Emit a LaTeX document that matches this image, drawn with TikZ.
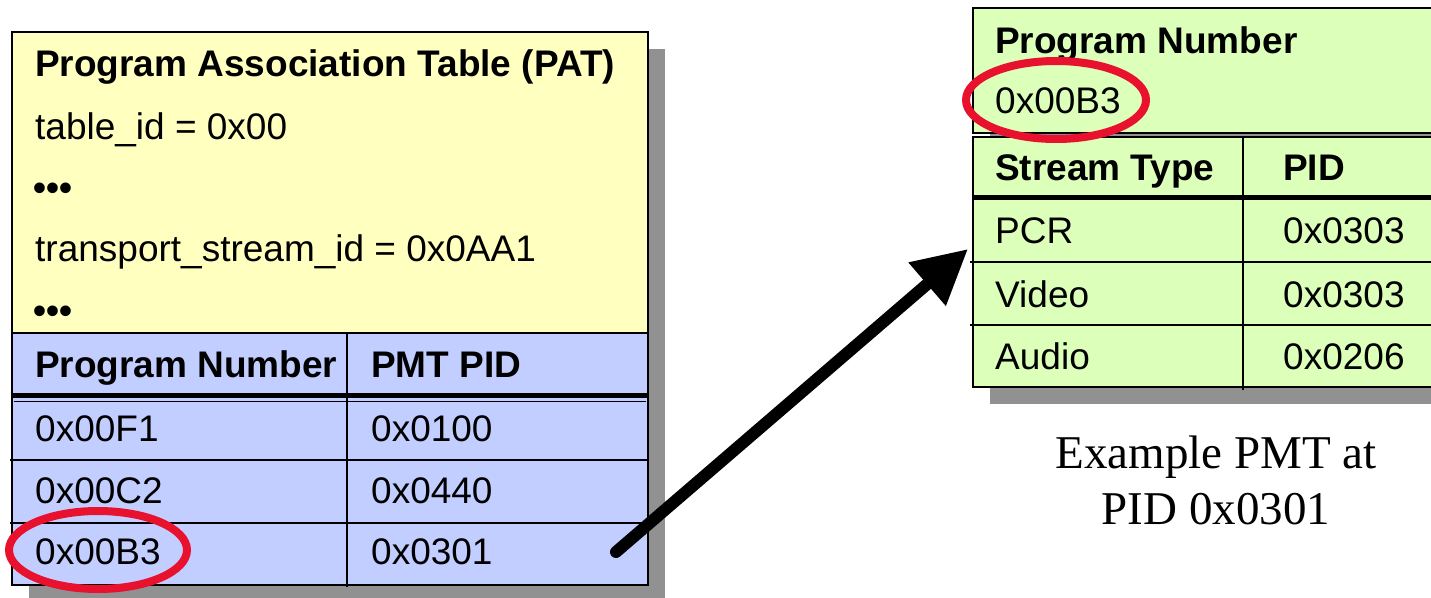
\documentclass[tikz,border=0pt]{standalone}
\usepackage{fontspec}
\setmainfont{Liberation Sans}
\newfontfamily\capfont{Liberation Serif}
\usetikzlibrary{arrows.meta}
\definecolor{patyellow}{RGB}{255,255,192}
\definecolor{patblue}{RGB}{194,206,255}
\definecolor{pmtgreen}{RGB}{220,255,186}
\definecolor{shadowgray}{RGB}{145,145,145}
\definecolor{markred}{RGB}{232,18,46}
\tikzset{
  cell/.style={anchor=base west, inner sep=0pt, font=\fontsize{37}{40}\selectfont},
  hcell/.style={anchor=base west, inner sep=0pt, font=\fontsize{37}{40}\selectfont\bfseries},
  frame/.style={draw=black, line width=2pt},
  shadowbox/.style={fill=shadowgray},
  rule/.style={draw=black, line width=1.6pt},
  thickrule/.style={draw=black, line width=5pt},
  ring/.style={draw=markred, line width=8pt},
  pointer/.style={draw=black, line width=12pt, line cap=round, -{Triangle[length=54pt,width=54pt]}},
  caption/.style={inner sep=0pt, align=center, font=\capfont\fontsize{47}{56}\selectfont}
}
\begin{document}
\begin{tikzpicture}[x=1pt,y=-1pt]
\clip (0,0) rectangle (1431,597);
\fill[white] (0,0) rectangle (1431,597);

% ---------- PAT (left) ----------
\fill[shadowbox] (29,49) rectangle (665,602);
\fill[patyellow] (12,32) rectangle (648,333);
\fill[patblue] (12,333) rectangle (648,585);
\draw[rule] (12,333) -- (648,333);
\draw[rule] (347,333) -- (347,587);
\draw[thickrule] (12,395) -- (648,395);
\draw[draw=black, line width=1.2pt] (14,401.5) -- (646,401.5);
\draw[rule] (10,460) -- (648,460);
\draw[rule] (10,523) -- (648,523);
\draw[frame] (12,32) rectangle (648,585);

\node[hcell] (pattitle) at (35,76) {Program Association Table (PAT)};
\node[cell] (tableid) at (35,139) {table\_id = 0x00};
\node[hcell] (dotsa) at (33,200) {•••};
\node[cell] (tsid) at (35,261) {transport\_stream\_id = 0x0AA1};
\node[hcell] (dotsb) at (33,323) {•••};
\node[hcell] (hprog) at (35,377) {Program Number};
\node[hcell] (hpid) at (371,377) {PMT PID};
\node[cell] (pa) at (35,441) {0x00F1};
\node[cell] (pida) at (371,441) {0x0100};
\node[cell] (pb) at (35,503) {0x00C2};
\node[cell] (pidb) at (371,503) {0x0440};
\node[cell] (pc) at (35,564) {0x00B3};
\node[cell] (pidc) at (371,564) {0x0301};

% ---------- PMT (right) ----------
\fill[shadowbox] (990,25) rectangle (1450,150);
\fill[shadowbox] (990,154) rectangle (1450,404);
\fill[pmtgreen] (973,8) rectangle (1445,133);
\draw[frame] (973,8) rectangle (1445,133);
\fill[pmtgreen] (973,137) rectangle (1445,387);
\draw[rule] (1243,137) -- (1243,390);
\draw[thickrule] (973,197.5) -- (1445,197.5);
\draw[rule] (970,262) -- (1445,262);
\draw[rule] (970,325) -- (1445,325);
\draw[frame] (973,137) rectangle (1445,387);

\node[hcell] (pmtprog) at (995,53) {Program Number};
\node[cell] (pmtnum) at (995,113) {0x00B3};
\node[hcell] (hstream) at (995,180) {Stream Type};
\node[hcell] (hspid) at (1283,180) {PID};
\node[cell] (spcr) at (995,243) {PCR};
\node[cell] (ppcr) at (1283,243) {0x0303};
\node[cell] (svid) at (995,307) {Video};
\node[cell] (pvid) at (1283,307) {0x0303};
\node[cell] (saud) at (995,369) {Audio};
\node[cell] (paud) at (1283,369) {0x0206};

\node[caption] (cap) at (1216,480) {Example PMT at\\PID 0x0301};

% ---------- highlight rings ----------
\draw[ring] (98,550) ellipse [x radius=89pt, y radius=39pt];
\draw[ring] (1056,100) ellipse [x radius=90pt, y radius=39pt];

% ---------- arrow ----------
\coordinate (arrowstart) at (616,552);
\coordinate (arrowtip) at (968,249);
\draw[pointer] (arrowstart) -- (arrowtip);
\end{tikzpicture}
\end{document}
